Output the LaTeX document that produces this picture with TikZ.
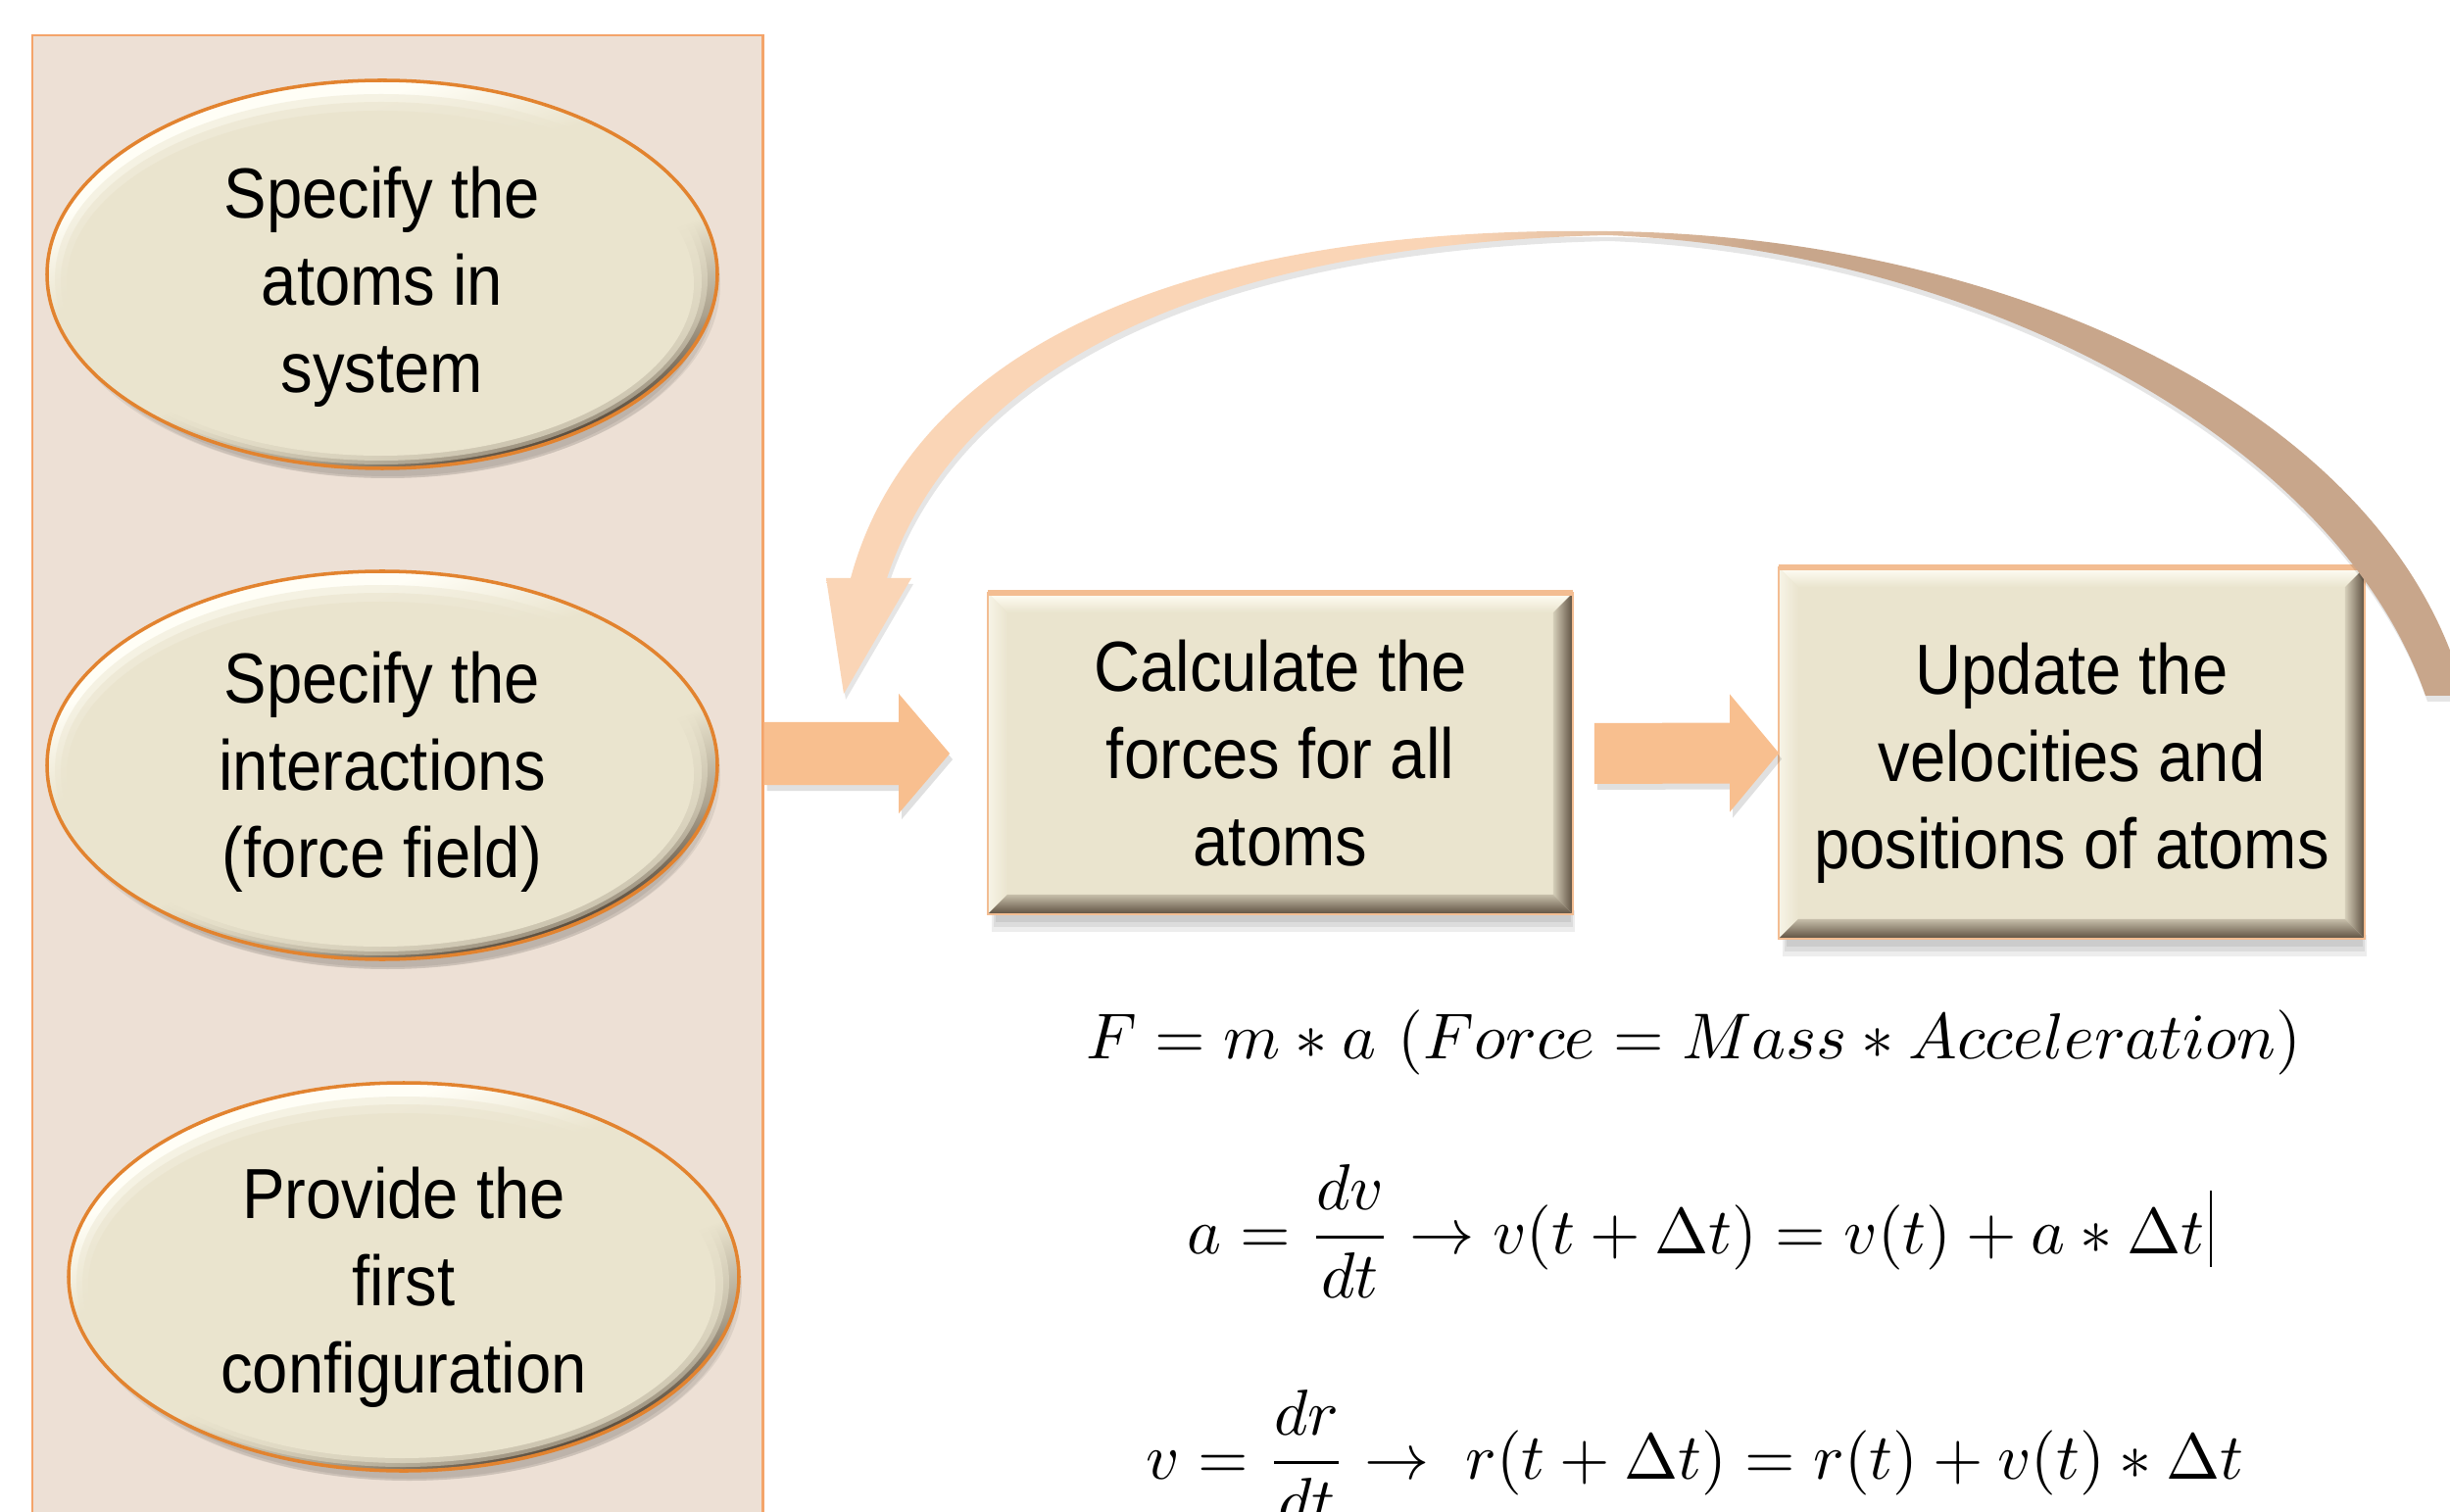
\documentclass[tikz,border=0pt]{standalone}
\usepackage{fontspec}
\usepackage{amsmath}
\newfontfamily\boxfont[FakeStretch=0.9]{Liberation Sans}
\usetikzlibrary{calc,shapes.geometric}
\pgfdeclarelayer{bgzero}
\pgfdeclarelayer{bgone}
\pgfsetlayers{bgzero,bgone,main}

\definecolor{panelfill}{HTML}{EDE0D5}
\definecolor{panelline}{HTML}{F4A46A}
\definecolor{cream}{HTML}{EAE4CE}
\definecolor{creamlight}{HTML}{FFFEF6}
\definecolor{bevdark}{HTML}{5E5040}
\definecolor{ellline}{HTML}{E2832F}
\definecolor{arrowfill}{HTML}{F8BF8F}
\definecolor{looppeach}{HTML}{FAD5B6}
\definecolor{looptan}{HTML}{C8A68B}
\definecolor{boxtop}{HTML}{F3BD92}

\pgfdeclarehorizontalshading{loopshade}{100bp}{color(0bp)=(looppeach); color(44bp)=(looppeach); color(54bp)=(looptan); color(100bp)=(looptan)}
\pgfdeclareverticalshading{ellbev}{100bp}{color(0bp)=(bevdark); color(27bp)=(bevdark); color(34bp)=(cream!55!bevdark); color(44bp)=(cream); color(58bp)=(cream); color(68bp)=(creamlight); color(100bp)=(creamlight)}

\tikzset{
  panelst/.style={draw=panelline, fill=panelfill, line width=0.6pt, minimum width=7.45cm, minimum height=15.8cm, inner sep=0pt, anchor=north west},
  ellshape/.style={ellipse, minimum width=6.84cm, minimum height=3.96cm, inner sep=0pt},
  boxshape/.style={rectangle, inner sep=0pt},
  labeltext/.style={inner sep=0pt, align=center, font=\boxfont\fontsize{20.6}{25.3}\selectfont},
  eqnode/.style={anchor=base west, inner sep=0pt},
  arrowst/.style={fill=arrowfill},
  arrowshadow/.style={fill=black, opacity=.12},
}

\newcommand{\ellbevel}[1]{%
  \fill[black,opacity=.07] ($(#1.center)+(6,20)$) ellipse [x radius=326, y radius=186];
  \fill[black,opacity=.07] ($(#1.center)+(6,15)$) ellipse [x radius=334, y radius=193];
  \fill[black,opacity=.07] ($(#1.center)+(5,10)$) ellipse [x radius=340, y radius=198];
  \shade[shading=ellbev, shading angle=20] (#1.center) ellipse [x radius=342, y radius=198];
  \fill[cream, opacity=.45] ($(#1.center)+(-1,5)$) ellipse [x radius=333, y radius=189];
  \fill[cream, opacity=.6] ($(#1.center)+(-1,7)$) ellipse [x radius=327, y radius=183];
  \fill[cream] ($(#1.center)+(-2,9)$) ellipse [x radius=320, y radius=176];
  \draw[ellline, line width=1pt] (#1.center) ellipse [x radius=342, y radius=198];
}

\newcommand{\boxbevel}[1]{%
  \coordinate (nw) at (#1.north west);
  \coordinate (ne) at (#1.north east);
  \coordinate (sw) at (#1.south west);
  \coordinate (se) at (#1.south east);
  \fill[black,opacity=.07] ($(sw)+(4,-4)$) rectangle ($(se)+(2,18)$);
  \fill[black,opacity=.07] ($(sw)+(6,-4)$) rectangle ($(se)+(0,13)$);
  \fill[black,opacity=.07] ($(sw)+(8,-4)$) rectangle ($(se)+(-2,8)$);
  \fill[cream] (nw) rectangle (se);
  \shade[top color=creamlight, bottom color=cream] (nw) -- (ne) -- ($(ne)+(-20,20)$) -- ($(nw)+(20,20)$) -- cycle;
  \shade[left color=cream!40!creamlight, right color=cream] (nw) -- ($(nw)+(20,20)$) -- ($(sw)+(20,-20)$) -- (sw) -- cycle;
  \shade[left color=cream!85!bevdark, right color=bevdark] (ne) -- (se) -- ($(se)+(-20,-20)$) -- ($(ne)+(-20,20)$) -- cycle;
  \shade[top color=cream!75!bevdark, bottom color=bevdark] (sw) -- ($(sw)+(20,-20)$) -- ($(se)+(-20,-20)$) -- (se) -- cycle;
  \draw[boxtop, line width=0.6pt] (nw) rectangle (se);
  \draw[boxtop, line width=1.6pt] (nw) -- (ne);
}

\begin{document}
\begin{tikzpicture}[x=0.01cm, y=-0.01cm]
\useasboundingbox (0,0) rectangle (2500,1543);
\clip (0,0) rectangle (2500,1543);

\begin{pgfonlayer}{bgzero}
  \fill[white] (0,0) rectangle (2500,1543);
  \node[panelst] (panel) at (32,35) {};
\end{pgfonlayer}

% shape nodes
\node[ellshape] (e1) at (390,280) {};
\node[ellshape] (e2) at (390,781) {};
\node[ellshape] (e3) at (412,1303) {};
\node[boxshape, minimum width=5.95cm, minimum height=3.26cm] (b1) at (1306.5,769) {};
\node[boxshape, minimum width=5.96cm, minimum height=3.77cm] (b2) at (2114,768.5) {};

% text nodes
\node[labeltext] (e1t) at ($(e1.center)+(0,13)$) {Specify the\\atoms in\\system};
\node[labeltext] (e2t) at ($(e2.center)+(0,7)$) {Specify the\\interactions\\(force field)};
\node[labeltext] (e3t) at ($(e3.center)+(0,11)$) {Provide the\\first\\configuration};
\node[labeltext] (b1t) at ($(b1.center)+(0,0)$) {Calculate the\\forces for all\\atoms};
\node[labeltext] (b2t) at ($(b2.center)+(0,10)$) {Update the\\velocities and\\positions of atoms};

\begin{pgfonlayer}{bgone}
  \ellbevel{e1}
  \ellbevel{e2}
  \ellbevel{e3}
  \boxbevel{b1}
  \boxbevel{b2}
\end{pgfonlayer}

% straight block arrows
\coordinate (a1s) at (panel.east |- b1.west);
\coordinate (a1t) at ($(b1.west)+(-39,0)$);
\coordinate (a2s) at ($(b1.east)+(22,0)$);
\coordinate (a2t) at (b2.west);

\fill[arrowshadow] ($(a1s)+(3,-26)$) -- ($(a1t)+(-49,-26)$) -- ($(a1t)+(-49,-55)$) -- ($(a1t)+(3,6)$) -- ($(a1t)+(-49,67)$) -- ($(a1t)+(-49,38)$) -- ($(a1s)+(3,38)$) -- cycle;
\fill[arrowst] ($(a1s)+(0,-32)$) -- ($(a1t)+(-52,-32)$) -- ($(a1t)+(-52,-61)$) -- (a1t) -- ($(a1t)+(-52,61)$) -- ($(a1t)+(-52,32)$) -- ($(a1s)+(0,32)$) -- cycle;

\fill[arrowshadow] ($(a2s)+(3,-25)$) -- ($(a2t)+(-47,-25)$) -- ($(a2t)+(-47,-54)$) -- ($(a2t)+(3,6)$) -- ($(a2t)+(-47,66)$) -- ($(a2t)+(-47,37)$) -- ($(a2s)+(3,37)$) -- cycle;
\fill[arrowst] ($(a2s)+(0,-31)$) -- ($(a2t)+(-50,-31)$) -- ($(a2t)+(-50,-60)$) -- (a2t) -- ($(a2t)+(-50,60)$) -- ($(a2t)+(-50,31)$) -- ($(a2s)+(0,31)$) -- cycle;

% curved loop arrow
\coordinate (loopS) at (2515,710);
\coordinate (loopT) at (861,708);
\fill[black, opacity=.10] ($(loopS)+(2,6)$) .. controls (2442,426) and (2052,246) .. (1642,242) .. controls (1202,236) and (932,366) .. (870,596) -- (845,596) -- ($(loopT)+(2,6)$) -- (932,596) -- (907,596) .. controls (977,386) and (1222,256) .. (1642,246) .. controls (2022,261) and (2387,456) .. (2477,716) -- cycle;
\shade[shading=loopshade] (loopS) .. controls (2440,420) and (2050,240) .. (1640,236) .. controls (1200,230) and (930,360) .. (868,590) -- (843,590) -- (loopT) -- (930,590) -- (905,590) .. controls (975,380) and (1220,250) .. (1640,240) .. controls (2020,255) and (2385,450) .. (2475,710) -- cycle;

% equations
\node[eqnode] (eq1) at (1108,1080) {\resizebox{12.39cm}{!}{$F = m * a\ (Force = Mass * Acceleration)$}};
\node[eqnode] (eq2) at (1211,1279) {\resizebox{10.37cm}{!}{$a = \dfrac{dv}{dt} \rightarrow v(t + \Delta t) = v(t) + a * \Delta t$}};
\node[eqnode] (eq3) at (1169,1509) {\resizebox{11.19cm}{!}{$v = \dfrac{dr}{dt} \rightarrow\; r(t + \Delta t) = r(t) + v(t) * \Delta t$}};
\draw[line width=0.6pt] ($(eq2.base east)+(6,-64)$) -- ($(eq2.base east)+(6,14)$);
\end{tikzpicture}
\end{document}
